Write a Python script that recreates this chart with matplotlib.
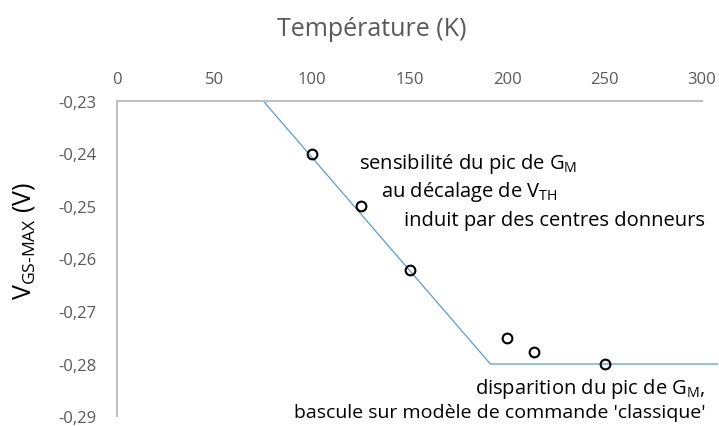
import matplotlib
matplotlib.use("Agg")
import matplotlib.pyplot as plt
from matplotlib.ticker import FuncFormatter

plt.rcParams["font.family"] = ["Open Sans", "DejaVu Sans"]
plt.rcParams["mathtext.fontset"] = "custom"
plt.rcParams["mathtext.rm"] = "Open Sans"

# mesures
temp = [100, 125, 150, 200, 214, 250]
vgs_max = [-0.240, -0.250, -0.2621, -0.2752, -0.2778, -0.2800]

# modèle (deux segments)
model_t = [75, 191.5, 308]
model_v = [-0.23, -0.2801, -0.2801]

xticks = [0, 50, 100, 150, 200, 250, 300]
yticks = [-0.23, -0.24, -0.25, -0.26, -0.27, -0.28, -0.29]

grey = "#595959"
fig = plt.figure(figsize=(7.19, 4.27), dpi=100)
ax = fig.add_axes([117 / 719, 1 - 417 / 427, (702 - 117) / 719, (417 - 102) / 427])

ax.plot(model_t, model_v, color="#5B9BD5", lw=0.9, clip_on=False, zorder=2)
ax.plot(temp, vgs_max, "o", ms=7, mfc="none", mec="black", mew=1.5, clip_on=False, zorder=3)

ax.set_xlim(0, 300)
ax.set_ylim(-0.29, -0.23)
ax.set_xticks(xticks)
ax.set_yticks(yticks)
ax.xaxis.tick_top()
ax.xaxis.set_label_position("top")
ax.yaxis.set_major_formatter(FuncFormatter(lambda v, p: f"{v:.2f}".replace(".", ",")))
ax.tick_params(length=0, colors=grey, labelsize=12)
ax.tick_params(axis="x", pad=10)
ax.tick_params(axis="y", pad=15)

for s in ["right", "bottom"]:
    ax.spines[s].set_visible(False)
for s in ["top", "left"]:
    ax.spines[s].set_color("#BFBFBF")
    ax.spines[s].set_linewidth(1.5)

fig.text(372 / 719, 1 - 29 / 427, "Température (K)", ha="center", va="center",
         fontsize=18, color=grey)
fig.text(24 / 719, 1 - 241 / 427, r"V$_\mathregular{GS\text{-}MAX}$ (V)", rotation=90,
         ha="center", va="center", fontsize=18, color="black")

fs = 14.5
ax.text(124.3, -0.2418, r"sensibilité du pic de G$_\mathregular{M}$", fontsize=fs, va="center")
ax.text(135.5, -0.2471, r"au décalage de V$_\mathregular{TH}$", fontsize=fs, va="center")
ax.text(147.3, -0.2526, "induit par des centres donneurs", fontsize=fs, va="center")
ax.text(301.8, -0.2846, r"disparition du pic de G$_\mathregular{M}$,", fontsize=fs,
        va="center", ha="right", clip_on=False)
ax.text(301.8, -0.2893, "bascule sur modèle de commande 'classique'", fontsize=14,
        va="center", ha="right", clip_on=False)

fig.savefig("out.png", dpi=100)
plt.close(fig)
